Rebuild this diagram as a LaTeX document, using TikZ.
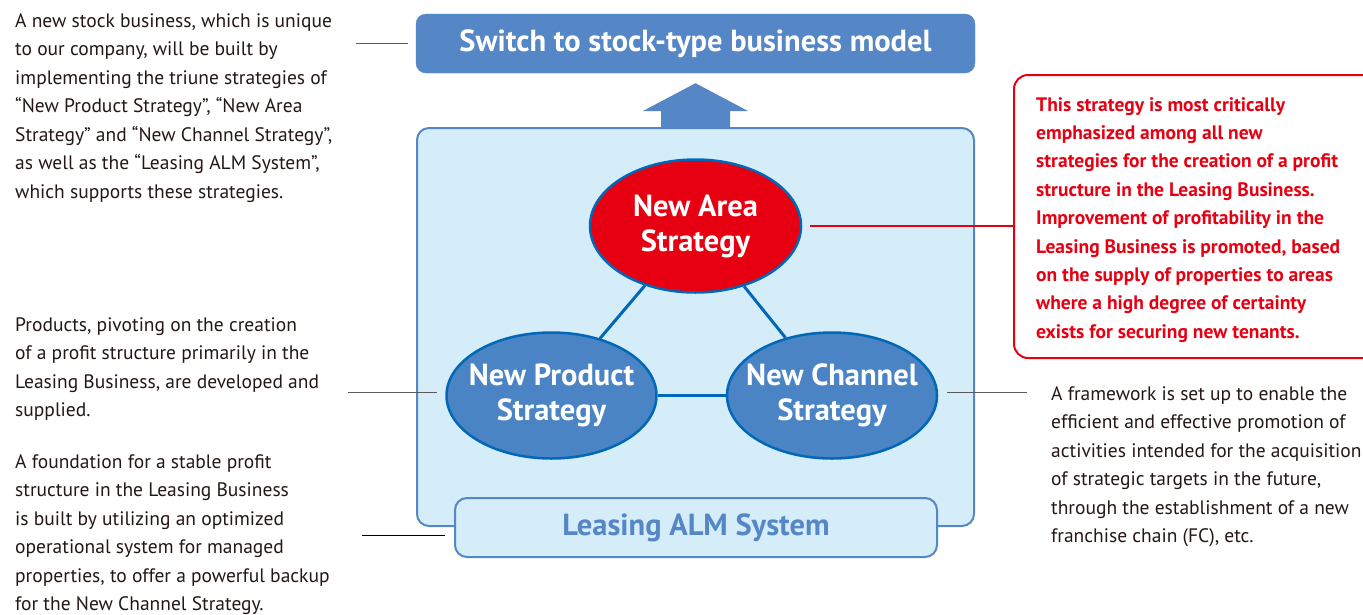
\documentclass[tikz,border=0pt]{standalone}
\usepackage{fontspec}
\setmainfont{PT Sans}
\newfontfamily\headfont{PT Sans}
\usetikzlibrary{shapes.geometric,calc}
\definecolor{boxblue}{RGB}{85,135,198}
\definecolor{ellblue}{RGB}{74,132,196}
\definecolor{ellline}{RGB}{0,104,183}
\definecolor{lightblue}{RGB}{213,236,249}
\definecolor{redc}{RGB}{230,0,18}
\definecolor{leadgray}{RGB}{90,90,90}
\definecolor{bodytext}{RGB}{35,24,21}
\tikzset{
  topbox/.style={rectangle, rounded corners=10pt, fill=boxblue, draw=boxblue, text=white,
    font=\headfont\bfseries\fontsize{30.5}{33}\selectfont, inner sep=0pt},
  framebox/.style={rectangle, rounded corners=12pt, fill=lightblue, draw=boxblue, line width=2pt, inner sep=0pt},
  almbox/.style={rectangle, rounded corners=12pt, fill=lightblue, draw=boxblue, line width=2pt, inner sep=0pt,
    text=boxblue, font=\headfont\bfseries\fontsize{30.5}{33}\selectfont},
  strat/.style={ellipse, draw=ellline, line width=2.5pt, fill=ellblue, text=white,
    inner xsep=-40pt, inner ysep=-25pt,
    align=center, font=\headfont\bfseries\fontsize{30.5}{35}\selectfont},
  body/.style={anchor=north west, inner sep=0pt, align=left, text=bodytext,
    font=\fontsize{19.5}{28.5}\selectfont},
  redbody/.style={anchor=north west, inner sep=0pt, align=left, text=redc,
    font=\bfseries\fontsize{19.5}{28.4}\selectfont},
  leader/.style={draw=leadgray, line width=1pt},
  tie/.style={draw=ellline, line width=3pt},
}
\begin{document}
\begin{tikzpicture}[x=1pt,y=-1pt]
\useasboundingbox (0,0) rectangle (1363,614);
\clip (0,0) rectangle (1363,614);

% top box
\node[topbox, minimum width=559pt, minimum height=59pt] (top) at (695.5,43.5) {Switch to stock-type business model};

% frame
\node[framebox, minimum width=557pt, minimum height=398pt] (frame) at (695.5,327) {};

% up arrow from frame to top box
\fill[boxblue] ($(frame.north)+(-34.5,0)$) -- ++(0,-16) -- ++(-18,0) -- ($(top.south)+(0,10)$)
  -- ($(frame.north)+(52.5,-16)$) -- ++(-18,0) -- ($(frame.north)+(34.5,0)$) -- cycle;

% strategies
\node[strat, minimum width=211pt, minimum height=133pt, fill=redc] (area) at (695.5,226) {New Area\\Strategy};
\node[strat, minimum width=210pt, minimum height=126pt] (product) at (551.5,395.5) {New Product\\Strategy};
\node[strat, minimum width=210pt, minimum height=126pt] (channel) at (832,395.5) {New Channel\\Strategy};

\draw[tie] (area) -- (product);
\draw[tie] (area) -- (channel);
\draw[tie] (product.east) -- (channel.west);

% ALM box
\node[almbox, minimum width=482pt, minimum height=59pt] (alm) at (696,527.5) {Leasing ALM System};

% red box
\node[rectangle, rounded corners=14pt, draw=redc, line width=2pt, minimum width=386pt, minimum height=283pt] (redbox) at (1207,216.5) {};

% texts
\node[body] (t1) at (15,13) {A new stock business, which is unique\\
to our company, will be built by\\
implementing the triune strategies of\\
“New Product Strategy”, “New Area\\
Strategy” and “New Channel Strategy”,\\
as well as the “Leasing ALM System”,\\
which supports these strategies.};

\node[body] (t2) at (15,317) {Products, pivoting on the creation\\
of a profit structure primarily in the\\
Leasing Business, are developed and\\
supplied.};

\node[body] (t3) at (15,454) {A foundation for a stable profit\\
structure in the Leasing Business\\
is built by utilizing an optimized\\
operational system for managed\\
properties, to offer a powerful backup\\
for the New Channel Strategy.};

\node[body] (t4) at (1051,386) {A framework is set up to enable the\\
efficient and effective promotion of\\
activities intended for the acquisition\\
of strategic targets in the future,\\
through the establishment of a new\\
franchise chain (FC), etc.};

\node[redbody] (t5) at (1036,97) {This strategy is most critically\\
emphasized among all new\\
strategies for the creation of a profit\\
structure in the Leasing Business.\\
Improvement of profitability in the\\
Leasing Business is promoted, based\\
on the supply of properties to areas\\
where a high degree of certainty\\
exists for securing new tenants.};

% leader lines
\coordinate (ltop) at (356,43);
\coordinate (lprod) at (348,392);
\coordinate (lalm) at (362,535);
\coordinate (lchan) at (1027,392);
\draw[leader, shorten >=8pt] (ltop) -- (ltop -| top.west);
\draw[leader, shorten >=8pt] (lprod) -- (lprod -| product.west);
\draw[leader, draw=black, shorten >=9pt] (lalm) -- (lalm -| alm.west);
\draw[leader, shorten >=9pt] (lchan) -- (lchan -| channel.east);
\draw[draw=redc, line width=1.4pt, shorten <=8pt] (area.east) -- (area.east -| redbox.west);
\end{tikzpicture}
\end{document}
